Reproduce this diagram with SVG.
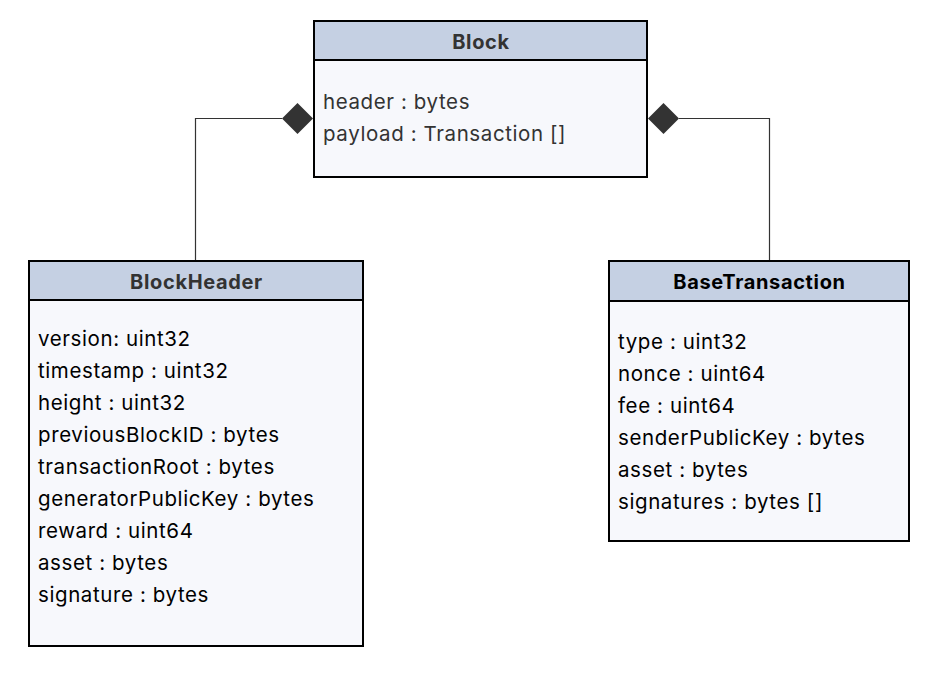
<svg xmlns="http://www.w3.org/2000/svg" width="939" height="676" viewBox="0 0 939 676">
<style>
.box{fill:#f7f8fc;stroke:#000;stroke-width:2}
.head{fill:#c5d0e3;stroke:#000;stroke-width:2}
.title{font-family:Inter,"Noto Sans",sans-serif;font-size:20px;font-weight:700;text-anchor:middle;letter-spacing:0.65px}
.attr{font-family:Inter,"Noto Sans",sans-serif;font-size:20.5px;letter-spacing:0.6px}
.conn{fill:none;stroke:#333;stroke-width:1.2}
.dia{fill:#333}
</style>
<rect width="939" height="676" fill="#fff"/>
<g id="connectors">
<polyline class="conn" points="282,118.5 195.5,118.5 195.5,261"/>
<polygon class="dia" points="282,118.5 297.5,103 313,118.5 297.5,134"/>
<polyline class="conn" points="679,118.5 769.5,118.5 769.5,261"/>
<polygon class="dia" points="648,118.5 663.5,103 679,118.5 663.5,134"/>
</g>
<g id="Block">
<rect class="box" x="314" y="21" width="333" height="156"/>
<rect class="head" x="314" y="21" width="333" height="39"/>
<text class="title" x="481" y="48.5" fill="#333">Block</text>
<text class="attr" x="323" y="109" fill="#333">header : bytes</text>
<text class="attr" x="323" y="141" fill="#333">payload : Transaction []</text>
</g>
<g id="BlockHeader">
<rect class="box" x="29" y="261" width="334" height="385"/>
<rect class="head" x="29" y="261" width="334" height="39"/>
<text class="title" x="196.5" y="288.5" fill="#333">BlockHeader</text>
<g class="attr" fill="#000">
<text x="38" y="345.5">version: uint32</text>
<text x="38" y="377.5">timestamp : uint32</text>
<text x="38" y="409.5">height : uint32</text>
<text x="38" y="441.5">previousBlockID : bytes</text>
<text x="38" y="473.5">transactionRoot : bytes</text>
<text x="38" y="505.5">generatorPublicKey : bytes</text>
<text x="38" y="537.5">reward : uint64</text>
<text x="38" y="569.5">asset : bytes</text>
<text x="38" y="601.5">signature : bytes</text>
</g>
</g>
<g id="BaseTransaction">
<rect class="box" x="609" y="261" width="300" height="280"/>
<rect class="head" x="609" y="261" width="300" height="40"/>
<text class="title" x="759.5" y="288.5" fill="#000">BaseTransaction</text>
<g class="attr" fill="#000">
<text x="618" y="349">type : uint32</text>
<text x="618" y="381">nonce : uint64</text>
<text x="618" y="413">fee : uint64</text>
<text x="618" y="445">senderPublicKey : bytes</text>
<text x="618" y="477">asset : bytes</text>
<text x="618" y="509">signatures : bytes []</text>
</g>
</g>
</svg>
